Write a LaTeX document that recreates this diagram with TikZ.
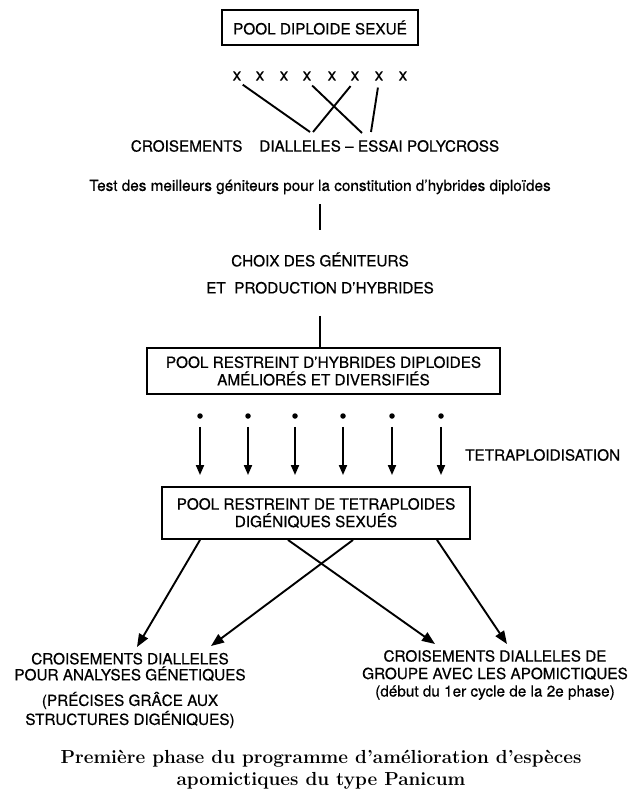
\documentclass[tikz,border=0pt]{standalone}
\usepackage{fontspec}
\setsansfont{TeX Gyre Heros}[FakeBold=0.6]
\usepackage{tikz}
\usetikzlibrary{arrows.meta}

\begin{document}
\begin{tikzpicture}[x=1pt, y=-1pt,
  txt/.style={font=\sffamily\fontsize{15.3}{17.5}\selectfont, align=center, inner sep=0pt},
  boite/.style={txt, draw, line width=1.9pt},
  trait/.style={line width=1.9pt},
  fl/.style={trait, -{Triangle[length=10pt,width=8pt]}},
  gfl/.style={line width=1.9pt, -{Triangle[length=13pt,width=10pt]}},
  point/.style={circle, fill, inner sep=0pt, minimum size=5.5pt}]
\pgfmathsetmacro{\ydot}{416} % row of dots
\pgfmathsetmacro{\yx}{76} % row of crosses
\useasboundingbox (0,0) rectangle (631,794);
\node[boite, minimum width=196pt, minimum height=35pt] (pool) at (320,27.5) {POOL DIPLOIDE SEXUÉ};
\foreach \i/\xx in {1/237,2/260,3/284,4/307,5/332,6/355,7/379,8/403}
  \node[txt, font=\sffamily\fontsize{17}{17}\selectfont] (x\i) at (\xx,\yx) {x};
\node[txt] (crois) at (315,146) {CROISEMENTS\hspace{1.1em}DIALLELES -- ESSAI POLYCROSS};
\coordinate (c1) at (310,132);
\coordinate (c2) at (313,132);
\coordinate (c3) at (362,133);
\coordinate (c4) at (371,132);
\draw[trait, shorten <=7pt] (x1.south) -- (c1);
\draw[trait, shorten <=7pt] (x6.south) -- (c2);
\draw[trait, shorten <=7pt] (x4.south) -- (c3);
\draw[trait, shorten <=7pt] (x7.south) -- (c4);
\node[txt] (test) at (320,187) {Test des meilleurs géniteurs pour la constitution d’hybrides diploïdes};
\node[txt, font=\sffamily\fontsize{15.3}{27}\selectfont] (choix) at (320,273) {CHOIX DES GÉNITEURS\\ET\ \ PRODUCTION D’HYBRIDES};
\draw[trait, shorten <=10pt, shorten >=22pt] (test.south) -- (choix.north);
\node[boite, minimum width=353pt, minimum height=46pt] (pool2) at (323.5,371) {POOL RESTREINT D’HYBRIDES DIPLOIDES\\AMÉLIORÉS ET DIVERSIFIÉS};
\draw[trait, shorten <=22pt] (choix.south) -- (choix.south |- pool2.north);
\node[boite, minimum width=308pt, minimum height=52pt] (pool3) at (316,513) {POOL RESTREINT DE TETRAPLOIDES\\DIGÉNIQUES SEXUÉS};
\foreach \i/\xx in {1/200,2/248,3/295,4/343,5/392,6/441} {
  \node[point] (d\i) at (\xx,\ydot) {};
  \draw[fl, shorten <=8pt, shorten >=11pt] (d\i) -- (d\i |- pool3.north);
}
\node[txt, anchor=west] (tetra) at (465,455) {TETRAPLOIDISATION};
% bottom crossing
\coordinate (a1) at (137,647);
\coordinate (a2) at (211,646);
\coordinate (a3) at (435,644);
\coordinate (a4) at (507,644);
\draw[gfl] ([xshift=-116pt]pool3.south) -- (a1);
\draw[gfl] ([xshift=37pt]pool3.south) -- (a2);
\draw[gfl] ([xshift=-28pt]pool3.south) -- (a3);
\draw[gfl] ([xshift=121pt]pool3.south) -- (a4);
\node[txt, font=\sffamily\fontsize{15.3}{16}\selectfont] (analyse) at (130,667) {CROISEMENTS DIALLELES\\POUR ANALYSES GÉNETIQUES};
\node[txt, font=\sffamily\fontsize{15.3}{19}\selectfont] (precis) at (130,710) {(PRÉCISES GRÂCE AUX\\STRUCTURES DIGÉNIQUES)};
\node[txt] (groupe) at (495,675) {CROISEMENTS DIALLELES DE\\GROUPE AVEC LES APOMICTIQUES\\(début du 1er cycle de la 2e phase)};
\node[font=\bfseries\fontsize{18.9}{22}\selectfont, align=center, inner sep=0pt] (titre) at (321,770) {Première phase du programme d’amélioration d’espèces\\apomictiques du type Panicum};
\end{tikzpicture}
\end{document}
